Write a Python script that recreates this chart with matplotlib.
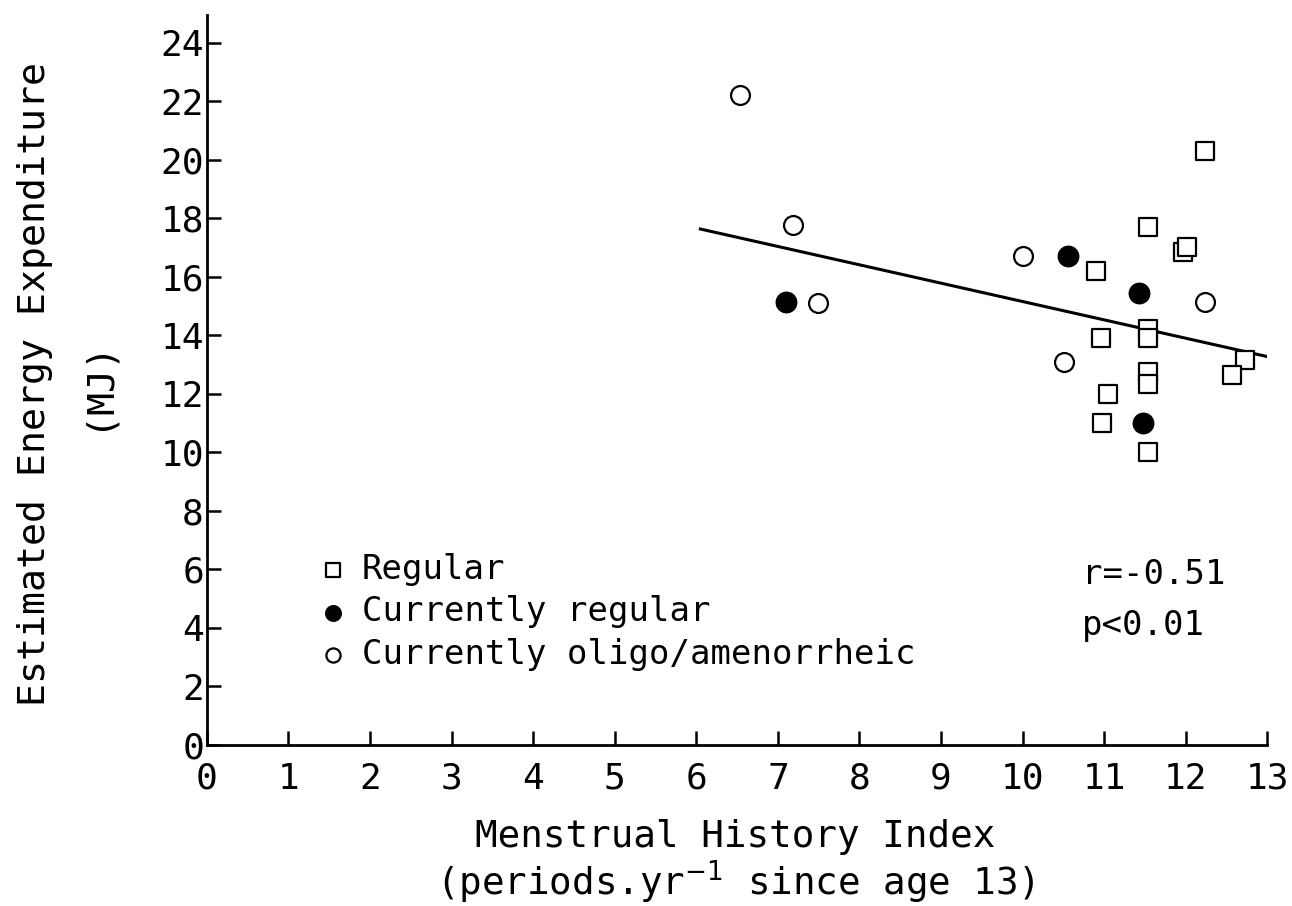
#!/usr/bin/env python3
import matplotlib
matplotlib.use("Agg")
import matplotlib.pyplot as plt

# Regular menstrual history
regular_x = [12.23, 11.53, 11.96, 12.02, 10.90, 11.53, 11.53, 10.96, 12.72, 12.56,
             11.53, 11.53, 11.05, 10.97, 11.54]
regular_y = [20.3, 17.7, 16.85, 17.0, 16.2, 14.2, 13.9, 13.9, 13.15, 12.65,
             12.75, 12.35, 12.0, 11.0, 10.0]

# Currently regular
cur_reg_x = [10.55, 11.43, 7.10, 11.47]
cur_reg_y = [16.7, 15.45, 15.15, 11.0]

# Currently oligo/amenorrheic
oligo_x = [6.54, 7.19, 10.0, 7.49, 12.23, 10.51]
oligo_y = [22.2, 17.75, 16.7, 15.1, 15.15, 13.1]

# regression line end points
fit_x = [6.05, 13.0]
fit_y = [17.63, 13.27]

x_ticks = list(range(0, 14))
y_ticks = list(range(0, 25, 2))

plt.rcParams['font.family'] = ['DejaVu Sans Mono', 'DejaVu Sans']

fig = plt.figure(figsize=(12.92, 9.06), dpi=100)
ax = fig.add_axes([0.160, 0.1777, 0.821, 0.806])

ax.plot(fit_x, fit_y, color='black', lw=2.2, zorder=1)
sq = ax.scatter(regular_x, regular_y, marker='s', s=175, facecolors='white',
                edgecolors='black', linewidths=1.6, zorder=3, label='Regular')
fc = ax.scatter(cur_reg_x, cur_reg_y, marker='o', s=200, facecolors='black',
                edgecolors='black', linewidths=1.6, zorder=3, label='Currently regular')
oc = ax.scatter(oligo_x, oligo_y, marker='o', s=185, facecolors='white',
                edgecolors='black', linewidths=1.6, zorder=3,
                label='Currently oligo/amenorrheic')

ax.set_xlim(0, 13)
ax.set_ylim(0, 24.95)
ax.set_xticks(x_ticks)
ax.set_yticks(y_ticks)
ax.spines['top'].set_visible(False)
ax.spines['right'].set_visible(False)
ax.spines['left'].set_linewidth(2)
ax.spines['bottom'].set_linewidth(2)
ax.tick_params(direction='in', length=10, width=1.8, labelsize=26)
ax.tick_params(axis='x', pad=12)
ax.tick_params(axis='y', pad=2)

# axis titles
ax.text(-0.162, 0.495, 'Estimated Energy Expenditure', transform=ax.transAxes,
        rotation=90, ha='center', va='center', fontsize=27.5)
ax.text(-0.104, 0.495, '(MJ)', transform=ax.transAxes,
        rotation=90, ha='center', va='center', fontsize=27.5)
ax.text(0.498, -0.1397, 'Menstrual History Index', transform=ax.transAxes,
        ha='center', va='baseline', fontsize=27)
ax.text(0.498, -0.2055, r'(periods.yr$^{-1}$ since age 13)', transform=ax.transAxes,
        ha='center', va='baseline', fontsize=27)

# correlation annotation
ax.text(0.825, 0.233, 'r=-0.51', transform=ax.transAxes,
        ha='left', va='center', fontsize=24.5)
ax.text(0.825, 0.164, 'p<0.01', transform=ax.transAxes,
        ha='left', va='center', fontsize=24.5)

ax.legend(handles=[sq, fc, oc], loc='upper left', bbox_to_anchor=(0.074, 0.305),
          frameon=False, fontsize=24.5, markerscale=0.75, handletextpad=0.35,
          labelspacing=0.28, handlelength=1.0)

fig.savefig('out.png', dpi=100)
